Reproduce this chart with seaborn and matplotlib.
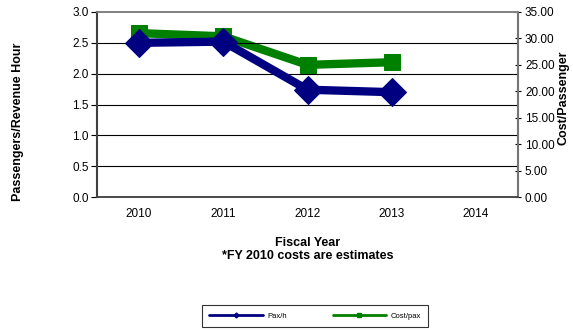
import matplotlib
matplotlib.use("Agg")
import matplotlib.pyplot as plt
import seaborn as sns
import pandas as pd
from matplotlib.lines import Line2D

years = ["2010", "2011", "2012", "2013", "2014"]
pax_years = ["2010", "2011", "2012", "2013"]
pax_per_hour = [2.50, 2.52, 1.74, 1.70]
cost_per_pax = [31.0, 30.4, 25.0, 25.5]
left_ticks = [0.0, 0.5, 1.0, 1.5, 2.0, 2.5, 3.0]
right_ticks = [0, 5, 10, 15, 20, 25, 30, 35]

sns.set_theme(style="white")
plt.rcParams['font.family'] = ['Liberation Sans', 'DejaVu Sans']
plt.rcParams['text.color'] = 'black'
plt.rcParams['axes.labelcolor'] = 'black'
plt.rcParams['xtick.color'] = 'black'
plt.rcParams['ytick.color'] = 'black'

fig = plt.figure(figsize=(5.73, 3.30), dpi=100)
ax = fig.add_axes([97/573, 1-197/330, (518-97)/573, (197-12)/330])
ax2 = ax.twinx()

pos = {y: i for i, y in enumerate(years)}
df = pd.DataFrame({"x": [pos[y] for y in pax_years], "pax": pax_per_hour, "cost": cost_per_pax})

BLUE = "#000080"
GREEN = "#008000"

sns.lineplot(data=df, x="x", y="pax", ax=ax, color=BLUE, linewidth=6, marker="D",
             markersize=14, markeredgecolor=BLUE, zorder=3)
sns.lineplot(data=df, x="x", y="cost", ax=ax2, color=GREEN, linewidth=6, marker="s",
             markersize=12, markeredgecolor=GREEN, zorder=3)

ax.set_zorder(ax2.get_zorder() + 1)
ax.patch.set_visible(False)

ax.set_xlim(-0.5, len(years) - 0.5)
ax.set_ylim(0, 3.0)
ax2.set_ylim(0, 35)
ax.set_yticks(left_ticks)
ax.set_yticklabels([f"{v:.1f}" for v in left_ticks], fontsize=8.5)
ax2.set_yticks(right_ticks)
ax2.set_yticklabels([f"{v:.2f}" for v in right_ticks], fontsize=8.5)
ax.set_xticks(range(len(years)))
ax.set_xticklabels(years, fontsize=8.5)
ax.set_xticks([i - 0.5 for i in range(len(years) + 1)], minor=True)
ax.tick_params(axis="x", which="major", length=0, pad=8)
ax.tick_params(axis="x", which="minor", length=4, width=0.8, color="black", direction="out")
ax.tick_params(axis="y", length=4, width=0.8, color="black", direction="out", pad=2)
ax2.tick_params(axis="y", length=4, width=0.8, color="black", direction="inout", pad=3)

for v in left_ticks[1:-1]:
    ax.axhline(v, color="black", linewidth=0.8, zorder=1)

for a in (ax, ax2):
    for s in a.spines.values():
        s.set_visible(True)
        s.set_color("#808080")
        s.set_linewidth(1.2)
ax.spines["left"].set_color("#404040")
ax.spines["bottom"].set_color("#404040")
ax2.spines["right"].set_color("#404040")
ax2.spines["right"].set_linewidth(1.5)
ax.spines["left"].set_linewidth(1.5)

ax.set_xlabel("Fiscal Year\n*FY 2010 costs are estimates", fontsize=9, fontweight="bold",
              labelpad=12, linespacing=1.1)
ax.set_ylabel("")
ax2.set_ylabel("")
fig.text(18/573, 1-122/330, "Passengers/Revenue Hour", rotation=90, ha="center", va="center",
         fontsize=9, fontweight="bold")
fig.text(564/573, 1-98/330, "Cost/Passenger", rotation=90, ha="center", va="center",
         fontsize=9, fontweight="bold")

handles = [Line2D([0], [0], color=BLUE, lw=2, marker="D", markersize=2.5),
           Line2D([0], [0], color=GREEN, lw=2, marker="s", markersize=2.5)]
leg = fig.legend(handles, ["Pax/h", "Cost/pax"], loc="center", bbox_to_anchor=(315/573, 1-316/330),
                 ncol=2, fontsize=5.5, frameon=True, fancybox=False, edgecolor="black",
                 handlelength=7, columnspacing=6, borderpad=0.9, handletextpad=0.6)
leg.get_frame().set_linewidth(0.8)
if ax.get_legend():
    ax.get_legend().remove()

fig.savefig("out.png", dpi=100)
